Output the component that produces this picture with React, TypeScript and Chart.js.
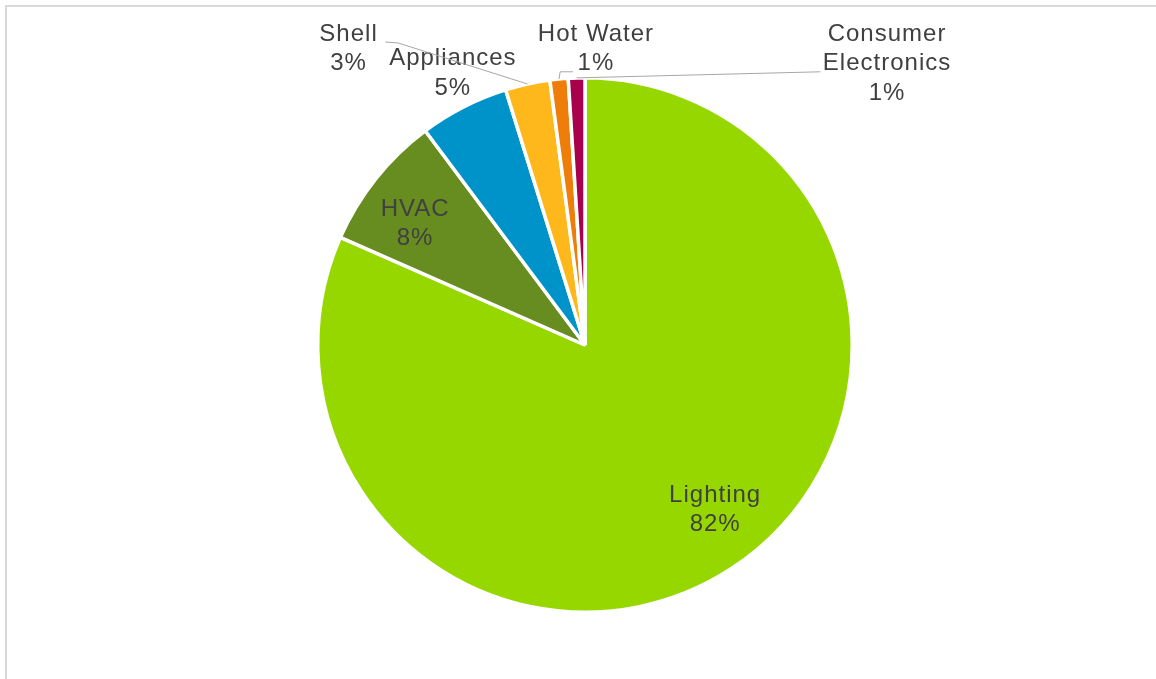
import React, { useEffect, useRef } from "react";
import { Chart, registerables } from "chart.js";

Chart.register(...registerables);

const categories = ["Lighting", "HVAC", "Appliances", "Shell", "Hot Water", "Consumer Electronics"];
const labelLines = [["Lighting"], ["HVAC"], ["Appliances"], ["Shell"], ["Hot Water"], ["Consumer", "Electronics"]];
const shares = [81.6, 8.2, 5.4, 2.7, 1.1, 1.0];
const colors = ["#97D700", "#678C1F", "#0093C9", "#FFB81C", "#EF7D0A", "#A8004C"];

// label anchor offsets relative to pie centre, in units of radius/269
const labelOffsets: [number, number][] = [
  [131, 151],
  [-171, -137],
  [-133, -288],
  [-238, -313],
  [11, -313],
  [304, -313],
];
// leader lines: list of points after the arc-edge start (null = none)
const leaderPoints: ([number, number][] | null)[] = [
  null,
  null,
  null,
  [[-188, -304], [-201, -305]],
  [[-25, -275], [-12, -275]],
  [[237, -275]],
];

const labelPlugin = {
  id: "pieLabels",
  afterDraw(chart: any) {
    const ctx = chart.ctx;
    const meta = chart.getDatasetMeta(0);
    const total = shares.reduce((a, b) => a + b, 0);
    ctx.save();
    meta.data.forEach((arc: any, i: number) => {
      const { x, y, outerRadius, startAngle, endAngle } = arc.getProps(
        ["x", "y", "outerRadius", "startAngle", "endAngle"],
        true
      );
      const k = outerRadius / 269;
      const mid = (startAngle + endAngle) / 2;
      const pts = leaderPoints[i];
      if (pts) {
        ctx.strokeStyle = "#A6A6A6";
        ctx.lineWidth = 1;
        ctx.beginPath();
        ctx.moveTo(x + Math.cos(mid) * outerRadius, y + Math.sin(mid) * outerRadius);
        pts.forEach(([px, py]) => ctx.lineTo(x + px * k, y + py * k));
        ctx.stroke();
      }
      const lines = [...labelLines[i], Math.round((shares[i] / total) * 100) + "%"];
      const [ox, oy] = labelOffsets[i];
      ctx.fillStyle = "#404040";
      ctx.font = "24px 'Liberation Sans', Arial, sans-serif";
      (ctx as any).letterSpacing = "1px";
      ctx.textAlign = "center";
      ctx.textBaseline = "middle";
      lines.forEach((t, j) => {
        ctx.fillText(t, x + ox * k, y + oy * k + j * 29.5);
      });
    });
    ctx.restore();
  },
};

export default function App() {
  const ref = useRef<HTMLCanvasElement>(null);
  useEffect(() => {
    if (!ref.current) return;
    const chart = new Chart(ref.current, {
      type: "pie",
      data: {
        labels: categories,
        datasets: [
          {
            data: shares,
            backgroundColor: colors,
            borderColor: "#FFFFFF",
            borderWidth: 3.5,
          },
        ],
      },
      options: {
        animation: false,
        responsive: false,
        layout: { padding: { top: 69, bottom: 65, left: 7, right: 0 } },
        plugins: {
          legend: { display: false },
          tooltip: { enabled: false },
        },
      },
      plugins: [labelPlugin],
    });
    return () => chart.destroy();
  }, []);
  return (
    <div
      style={{
        position: "fixed",
        left: 5,
        top: 5,
        width: 1160,
        height: 690,
        borderTop: "2px solid #D9D9D9",
        borderLeft: "2px solid #D9D9D9",
        background: "#fff",
      }}
    >
      <canvas ref={ref} width={1149} height={672} style={{ display: "block" }} />
    </div>
  );
}
